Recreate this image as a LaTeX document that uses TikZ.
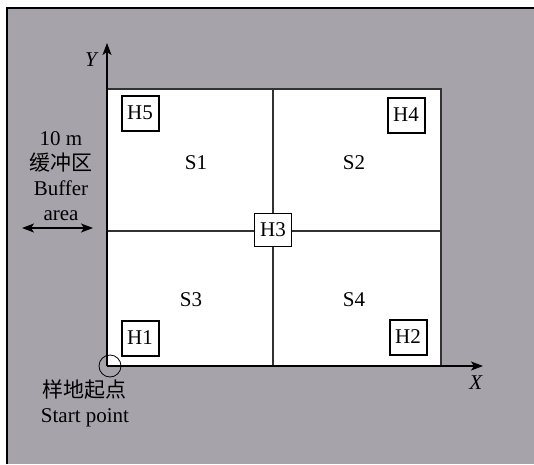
\documentclass[tikz,border=0pt]{standalone}
\usepackage{fontspec}
\setmainfont{Liberation Serif}
\newfontfamily\cjk{Noto Sans CJK SC}
\usepackage{tkz-euclide}
\usetikzlibrary{arrows.meta}
\definecolor{plotgray}{RGB}{166,164,170}
\definecolor{linegray}{RGB}{50,50,50}

\begin{document}
\begin{tikzpicture}[x=1pt,y=1pt,
  hbox/.style={draw=black,line width=2pt,fill=white,minimum width=37pt,minimum height=35pt,inner sep=2pt},
  hcentre/.style={draw=black,line width=1pt,fill=white,minimum width=37pt,minimum height=33pt,inner sep=2pt},
  axis/.style={line width=1.3pt,-{Stealth[length=12pt,width=9pt,inset=3pt]}},
  every node/.style={font=\fontsize{21}{25}\selectfont}]
   % background and frame
\useasboundingbox (-107,-98) rectangle (427,366);
\fill[plotgray] (-100,-98) rectangle (427,358);
\draw[line width=2pt] (-100,-98) -- (-100,358) -- (427,358);
\tkzDefPoints{0/0/O,334/0/B,334/277/C,0/277/D}
\tkzDefPoints{166/0/Mb,166/277/Mt,0/135/Ml,334/135/Mr}
\fill[white] (O) rectangle (C);
\draw[linegray,line width=1.5pt] (O) -- (B) -- (C) -- (D);
\draw[linegray,line width=1.3pt] (Mb) -- (Mt) (Ml) -- (Mr);
   % axes
\tkzDefPoints{0/323/Ytip,376/0/Xtip}
\draw[axis] (O) -- (Ytip);
\draw[axis] (O) -- (Xtip);
\node (ylab) at (-15,306) {\textit{Y}};
\node (xlab) at (369,-17) {\textit{X}};
   % subplots
\node (s1) at (89,203) {S1};
\node (s2) at (247,203) {S2};
\node (s3) at (84,66) {S3};
\node (s4) at (247,66) {S4};
\node[hbox] (h5) at (33,253) {H5};
\node[hbox] (h4) at (299,251) {H4};
\node[hbox] (h1) at (33,28) {H1};
\node[hbox] (h2) at (301,29) {H2};
\node[hcentre] (h3) at (166,136) {H3};
   % buffer area
\node[align=center] (buffer) at (-46,190) {10 m\\{\cjk 缓冲区}\\Buffer\\area};
\coordinate (bl) at (-85,138);
\coordinate (br) at (-14,138);
\draw[line width=1.3pt,{Stealth[length=12pt,width=9pt,inset=3pt]}-{Stealth[length=12pt,width=9pt,inset=3pt]}] (bl) -- (br);
   % start point
\draw[line width=0.8pt] (3,0) circle (11);
\node[align=center] (start) at (-22,-37) {{\cjk 样地起点}\\Start point};
\end{tikzpicture}
\end{document}
